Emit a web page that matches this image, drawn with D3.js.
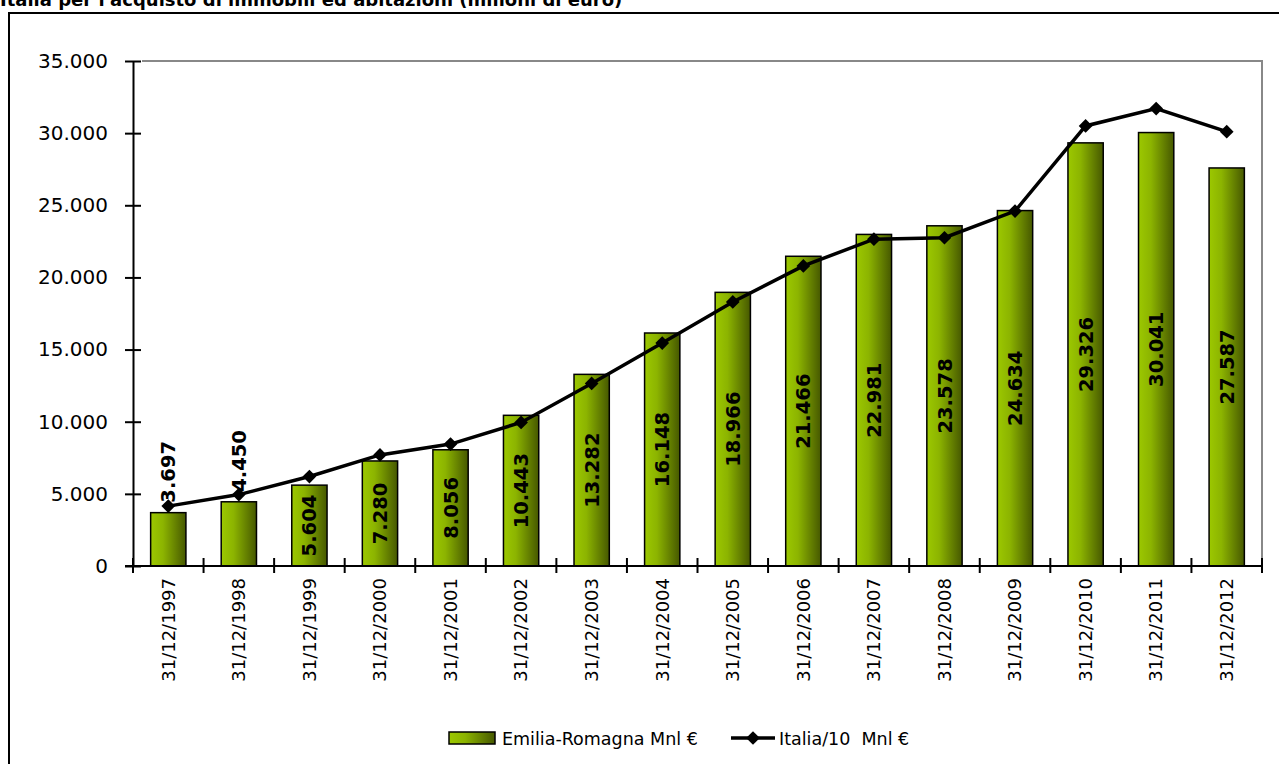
<!DOCTYPE html>
<html>
<head>
<meta charset="utf-8">
<script src="https://cdn.jsdelivr.net/npm/d3@7"></script>
<style>
  body { margin: 0; background: #fff; }
  svg { display: block; font-family: "DejaVu Sans", sans-serif; }
</style>
</head>
<body>
<svg id="chart" width="1279" height="764"></svg>
<script>
// data
var years = ['31/12/1997','31/12/1998','31/12/1999','31/12/2000','31/12/2001','31/12/2002','31/12/2003','31/12/2004',
  '31/12/2005','31/12/2006','31/12/2007','31/12/2008','31/12/2009','31/12/2010','31/12/2011','31/12/2012']
var emilia = [3697, 4450, 5604, 7280, 8056, 10443, 13282, 16148, 18966, 21466, 22981, 23578, 24634, 29326, 30041, 27587]
var italia10 = [4150, 4950, 6200, 7700, 8450, 9950, 12650, 15450, 18300, 20800, 22650, 22750, 24600, 30500, 31700, 30100]
var yTicks = [0, 5000, 10000, 15000, 20000, 25000, 30000, 35000]
var seriesNames = ['Emilia-Romagna Mnl €', 'Italia/10  Mnl €']

var svg = d3.select('#chart')
var plotL = 133, plotR = 1262, plotT = 61, plotB = 566

var fmt = function(v) { return d3.format(',')(v).replace(/,/g, '.') }

var x = d3.scaleBand().domain(years).range([plotL, plotR]).padding(0)
var y = d3.scaleLinear().domain([0, 35000]).range([plotB, plotT])

// gradient for the bars
var grad = svg.append('defs').append('linearGradient').attr('id', 'barGrad')
  .attr('x1', '0%').attr('x2', '100%').attr('y1', '0%').attr('y2', '0%')
grad.append('stop').attr('offset', '0%').attr('stop-color', '#9cc800')
grad.append('stop').attr('offset', '35%').attr('stop-color', '#8cb400')
grad.append('stop').attr('offset', '100%').attr('stop-color', '#465800')

// title, cut off at the top like in the picture
svg.append('text').attr('x', 0).attr('y', 6)
  .style('font-size', '18px').style('font-weight', 'bold')
  .text("Italia per l'acquisto di immobili ed abitazioni (milioni di euro)")

// outer frame (runs off the right and bottom edges)
svg.append('rect').attr('x', 9).attr('y', 13).attr('width', 1300).attr('height', 800)
  .attr('fill', 'none').attr('stroke', '#000').attr('stroke-width', 2)

// plot area border, grey
svg.append('path')
  .attr('d', 'M' + (plotL + 9) + ',' + plotT + 'H' + plotR + 'V' + plotB)
  .attr('fill', 'none').attr('stroke', '#888').attr('stroke-width', 2)

// bars
var bw = x.bandwidth() * 0.5
svg.append('g').selectAll('rect').data(emilia).enter().append('rect')
  .attr('x', function(d, i) { return x(years[i]) + (x.bandwidth() - bw) / 2 })
  .attr('y', function(d) { return y(d) })
  .attr('width', bw)
  .attr('height', function(d) { return y(0) - y(d) })
  .attr('fill', 'url(#barGrad)')
  .attr('stroke', '#000').attr('stroke-width', 1.5)

// y axis
var yAxis = svg.append('g').attr('transform', 'translate(' + plotL + ',0)')
  .call(d3.axisLeft(y).tickValues(yTicks).tickFormat(fmt).tickSize(0).tickPadding(25))
yAxis.select('.domain').attr('stroke', '#000').attr('stroke-width', 2)
yAxis.selectAll('.tick line').attr('x1', -8).attr('x2', 8).attr('stroke', '#000').attr('stroke-width', 2)
yAxis.selectAll('.tick text').style('font-size', '20px').style('font-family', 'DejaVu Sans').attr('fill', '#000')

// x axis
var xAxis = svg.append('g').attr('transform', 'translate(0,' + plotB + ')')
  .call(d3.axisBottom(x).tickSize(0))
xAxis.select('.domain').attr('d', 'M' + (plotL - 8) + ',0H' + plotR).attr('stroke', '#000').attr('stroke-width', 2)
xAxis.selectAll('.tick line').remove()
xAxis.selectAll('.tick text')
  .attr('transform', 'rotate(-90)')
  .attr('x', -12).attr('y', 0).attr('dy', '0.35em')
  .style('text-anchor', 'end').style('font-size', '18px').style('font-family', 'DejaVu Sans').attr('fill', '#000')
// tick marks between categories
svg.append('g').selectAll('line').data(years.concat(['end'])).enter().append('line')
  .attr('x1', function(d, i) { return plotL + i * x.step() })
  .attr('x2', function(d, i) { return plotL + i * x.step() })
  .attr('y1', plotB - 8).attr('y2', plotB + 7)
  .attr('stroke', '#000').attr('stroke-width', 2)

// italia line
var line = d3.line()
  .x(function(d, i) { return x(years[i]) + x.bandwidth() / 2 })
  .y(function(d) { return y(d) })
svg.append('path').datum(italia10).attr('d', line)
  .attr('fill', 'none').attr('stroke', '#000').attr('stroke-width', 3.5)
var diamond = d3.symbol().type(d3.symbolDiamond2).size(120)
svg.append('g').selectAll('path').data(italia10).enter().append('path')
  .attr('d', diamond)
  .attr('transform', function(d, i) {
    return 'translate(' + (x(years[i]) + x.bandwidth() / 2) + ',' + y(d) + ')'
  })
  .attr('fill', '#000')

// bar value labels: outside for short bars, centred inside otherwise
svg.append('g').selectAll('text').data(emilia).enter().append('text')
  .attr('transform', function(d, i) {
    var cx = x(years[i]) + x.bandwidth() / 2
    var cy = d < 5000 ? y(d) - 10 : (y(d) + y(0)) / 2
    return 'translate(' + cx + ',' + cy + ') rotate(-90)'
  })
  .attr('dy', '0.36em')
  .style('text-anchor', function(d) { return d < 5000 ? 'start' : 'middle' })
  .style('font-size', '19.5px').style('font-weight', 'bold')
  .text(fmt)

// legend
var lg = svg.append('g')
lg.append('rect').attr('x', 449).attr('y', 732).attr('width', 46).attr('height', 12)
  .attr('fill', 'url(#barGrad)').attr('stroke', '#000').attr('stroke-width', 1.5)
lg.append('text').attr('x', 502).attr('y', 745).style('font-size', '17.5px').text(seriesNames[0])
lg.append('line').attr('x1', 731).attr('x2', 775).attr('y1', 738).attr('y2', 738)
  .attr('stroke', '#000').attr('stroke-width', 3.5)
lg.append('path').attr('d', diamond)
  .attr('transform', 'translate(753,738)').attr('fill', '#000')
lg.append('text').attr('x', 779).attr('y', 745).style('font-size', '17.5px')
  .style('white-space', 'pre').text(seriesNames[1])
</script>
</body>
</html>
